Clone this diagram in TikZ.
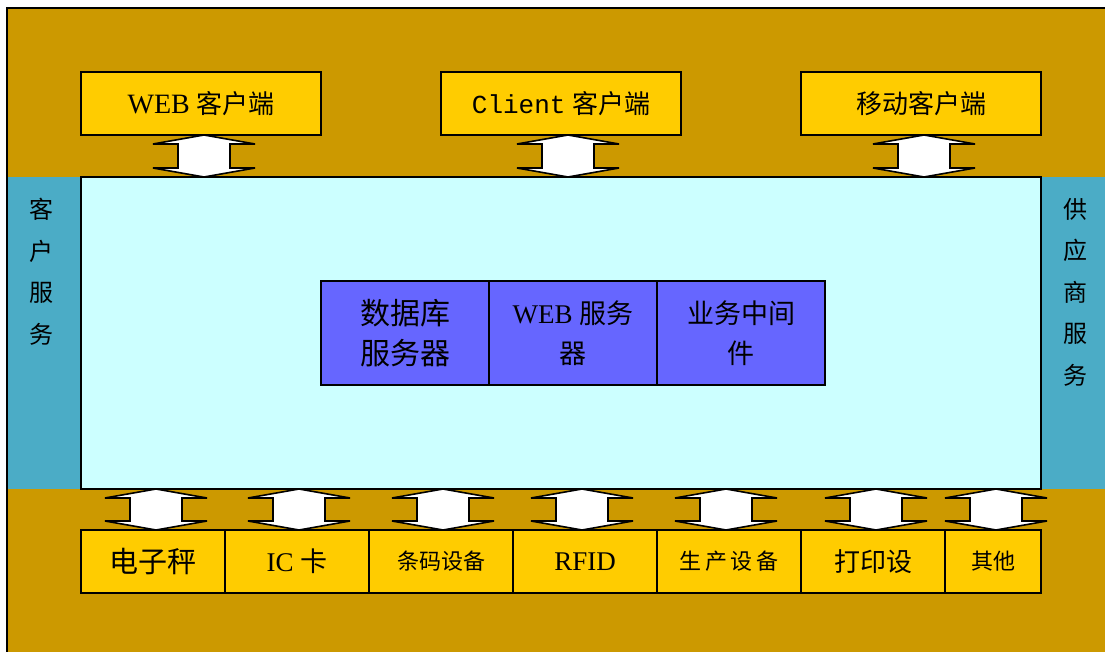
\documentclass[tikz,border=0pt]{standalone}
\usepackage{fontspec}
\setmainfont{Liberation Serif}
\newfontfamily\cjk{Noto Sans CJK SC}
\newfontfamily\monof{Liberation Mono}
\definecolor{brownbg}{HTML}{CC9900}
\definecolor{ybox}{HTML}{FFCC00}
\definecolor{sideblue}{HTML}{4BACC6}
\definecolor{corecyan}{HTML}{CCFFFF}
\definecolor{purp}{HTML}{6666FF}
\newcommand{\udarrow}[3]{%
  \draw[arrowshape] (#1,#2) -- ++(-51,9) -- ++(25,0) -- (#1-26,#3-9) -- ++(-25,0) -- (#1,#3)
    -- (#1+51,#3-9) -- ++(-25,0) -- (#1+26,#2+9) -- ++(25,0) -- cycle;}
\tikzset{
  ybox/.style={draw=black, line width=1.6pt, fill=ybox, inner sep=0pt, outer sep=0pt, anchor=north west, minimum height=63pt},
  pbox/.style={draw=black, line width=1.6pt, fill=purp, inner sep=0pt, outer sep=0pt, anchor=north west, minimum height=104pt, minimum width=168pt, align=center},
  arrowshape/.style={draw=black, line width=1.6pt, fill=white, line join=miter},
  sidetxt/.style={inner sep=0pt, align=center, anchor=north, font={\fontsize{24}{41.5}\selectfont\cjk}}
}
\begin{document}
\begin{tikzpicture}[x=1pt,y=-1pt]
\useasboundingbox (0,0) rectangle (1105,652);
\begin{scope}
\clip (0,0) rectangle (1105,652);
\node[draw=black, line width=1.8pt, fill=brownbg, inner sep=0pt, outer sep=0pt, anchor=north west, minimum width=1120pt, minimum height=660pt] (bg) at (7,8) {};
\end{scope}
% side bars
\fill[sideblue] (8,177) rectangle (81,489);
\fill[sideblue] (1041,177) rectangle (1105,489);
\node[draw=black, line width=1.4pt, fill=corecyan, inner sep=0pt, outer sep=0pt, anchor=north west, minimum width=960pt, minimum height=312pt] (core) at (81,177) {};
\node[sidetxt] (lt) at (41,198) {客\\户\\服\\务};
\node[sidetxt] (rt) at (1075,198) {供\\应\\商\\服\\务};
% top boxes
\node[ybox, minimum width=240pt, font={\fontsize{26}{30}\selectfont}] (t1) at (81,72) {{\fontsize{28}{30}\selectfont WEB} {\cjk 客户端}};
\node[ybox, minimum width=240pt, font={\fontsize{26}{30}\selectfont}] (t2) at (441,72) {{\monof Client} {\cjk 客户端}};
\node[ybox, minimum width=240pt, font={\fontsize{26}{30}\selectfont\cjk}] (t3) at (801,72) {移动客户端};
% center boxes
\node[pbox, font={\fontsize{30}{40}\selectfont\cjk}] (c1) at (321,281) {数据库\\服务器};
\node[pbox, font={\fontsize{27}{40}\selectfont}] (c2) at (489,281) {WEB {\cjk 服务}\\{\cjk 器}};
\node[pbox, font={\fontsize{27}{40}\selectfont\cjk}] (c3) at (657,281) {业务中间\\件};
% bottom boxes
\node[ybox, minimum width=144pt, font={\fontsize{29}{30}\selectfont\cjk}] (b1) at (81,530) {电子秤};
\node[ybox, minimum width=144pt, font={\fontsize{27}{30}\selectfont}] (b2) at (225,530) {IC {\cjk 卡}};
\node[ybox, minimum width=144pt, font={\fontsize{22}{30}\selectfont\cjk}] (b3) at (369,530) {条码设备};
\node[ybox, minimum width=144pt, font={\fontsize{27}{30}\selectfont}] (b4) at (513,530) {RFID};
\node[ybox, minimum width=144pt, font={\fontsize{22}{30}\selectfont\cjk}] (b5) at (657,530) {生\,产\,设\,备};
\node[ybox, minimum width=144pt, font={\fontsize{26}{30}\selectfont\cjk}] (b6) at (801,530) {打印设};
\node[ybox, minimum width=96pt, font={\fontsize{22}{30}\selectfont\cjk}] (b7) at (945,530) {其他};
% top arrows
\udarrow{204}{135}{177}
\udarrow{568}{135}{177}
\udarrow{924}{135}{177}
% bottom arrows
\udarrow{156}{489}{530}
\udarrow{299}{489}{530}
\udarrow{443}{489}{530}
\udarrow{582}{489}{530}
\udarrow{726}{489}{530}
\udarrow{876}{489}{530}
\udarrow{996}{489}{530}
\end{tikzpicture}
\end{document}
